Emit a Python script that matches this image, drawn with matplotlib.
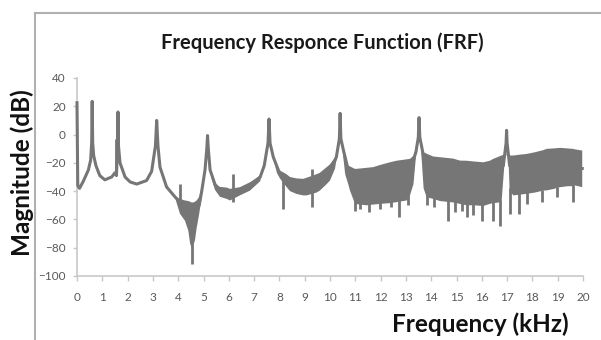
import matplotlib
matplotlib.use("Agg")
import matplotlib.pyplot as plt
from matplotlib.lines import Line2D

plt.rcParams['font.family'] = ['Lato', 'DejaVu Sans']

# ---- data (kHz, dB) ----
trace_freq = [0.0, 0.03, 0.1, 0.25, 0.45, 0.54, 0.58, 0.6, 0.62, 0.66, 0.75, 0.9, 1.1, 1.37,
              1.5, 1.56, 1.6, 1.62, 1.64, 1.7, 1.9, 2.1, 2.36, 2.75, 2.95, 3.1, 3.15, 3.2,
              3.28, 3.54, 3.87, 4.2, 4.53, 4.83, 4.93, 5.06, 5.13, 5.16, 5.19, 5.26, 5.45,
              5.65, 6.05, 6.44, 6.84, 7.24, 7.4, 7.55, 7.59, 7.63, 7.76, 8.0, 8.5, 9.0, 9.5,
              10.0, 10.25, 10.37, 10.4, 10.43, 10.53, 10.72, 11.5, 12.5, 13.2, 13.4, 13.49,
              13.52, 13.55, 13.65, 13.8, 14.5, 15.5, 16.5, 16.85, 16.96, 16.98, 17.0, 17.1,
              17.5, 18.5, 19.5, 19.97]
trace_db = [22.5, -36, -38, -33, -25, -18, -6, 23.5, -6, -15, -22, -29, -32, -30,
            -27, -29, -8, 16, -8, -20, -30, -33.5, -35, -32.5, -26, -8, 10, -8,
            -23, -37, -44, -50, -58, -50, -40, -25, -10, -0.7, -10, -25, -35,
            -40, -42, -40, -36, -30, -22, -6, 11, -6, -16, -27, -34, -36, -33,
            -27, -16, -3, 15, -3, -11, -25, -35, -31, -24, -12, -2,
            12, -2, -11, -25, -30, -33, -32, -22, -6, 3, -6, -22,
            -28, -27, -24, -24]

band_freq = [3.85, 3.95, 4.07, 4.27, 4.4, 4.47, 4.53, 4.6, 4.66, 4.73, 4.83, 4.93, 5.0, 5.05,
             5.3, 5.45, 5.65, 5.92, 6.05, 6.44, 6.84, 7.24, 7.35,
             7.75, 7.9, 8.02, 8.28, 8.42, 8.68, 8.94, 9.08, 9.47, 9.6, 9.87, 10.0, 10.2, 10.3,
             10.5, 10.6, 10.72, 10.79, 10.99, 11.18, 11.45, 11.71, 11.98, 12.37, 12.63, 13.03,
             13.16, 13.3, 13.43,
             13.6, 13.7, 13.82, 14.08, 14.35, 14.87, 15.14, 15.4, 15.67, 16.06, 16.32, 16.45,
             16.78, 16.92,
             17.05, 17.1, 17.25, 17.5, 17.77, 18.1, 18.43, 18.56, 18.83, 19.1, 19.4, 19.6,
             19.7, 19.97]
band_upper = [-43, -44.5, -45.5, -46.6, -47, -47.5, -48, -48, -47.5, -46.6, -44, -37, -32, -28,
              -30, -34.5, -37, -37.5, -38.4, -37.2, -33.7, -29, -25,
              -16, -23, -25.4, -28, -30, -31, -31.3, -30.5, -28, -27, -23, -21, -16, -12,
              -12, -18, -21.9, -22.5, -24.3, -24, -23.5, -23, -21.5, -19.6, -18.5, -17.5,
              -17.2, -15, -9,
              -11, -12.5, -13.5, -15.5, -16, -17, -18.4, -18.5, -19, -19.6, -18.5, -17.2,
              -14.8, -14,
              -14, -14.8, -14.8, -14.2, -13.7, -12.5, -11, -10.1, -9.8, -9.4, -9.8, -10.1,
              -10.5, -11.3]
band_lower = [-43, -49, -56, -61, -68, -77, -80, -78, -75, -66, -56, -44, -33, -28,
              -30, -39, -44, -45.5, -46.6, -43, -39.6, -33, -25,
              -16, -27, -31, -37, -40, -42, -43, -43, -41, -39.6, -35, -32.5, -24, -12,
              -12, -28, -35, -39.6, -49, -49.5, -50, -49.5, -49, -48.5, -47.8, -46.6,
              -43, -35, -9,
              -11, -38, -44.3, -45.5, -47, -48, -49, -50, -50, -50.5, -49, -48.5,
              -47.8, -15,
              -14, -40, -43, -42.5, -41.9, -41, -39.6, -39.5, -38.5, -37.2, -36.5, -36.5,
              -36, -37.2]

spike_freq = [1.56, 4.07, 4.53, 6.18, 8.13, 9.3, 11.0, 11.19, 11.55, 11.98, 12.43, 12.74, 13.1,
              13.82, 14.1, 14.68, 14.94, 15.2, 15.4, 15.67, 16.0, 16.45, 16.72, 17.11, 17.48,
              17.77, 18.37, 18.96, 19.6]
spike_top = [-3, -35, -60, -28, -30, -24, -45, -46, -47, -46, -45, -44, -42,
             -42, -44, -45, -47, -48, -48, -48, -49, -47, -46, -38, -41,
             -40, -39, -37, -36]
spike_bottom = [-28, -50, -91.4, -48, -52.5, -51.3, -53.7, -52.5, -55, -52.5, -51.3, -58.4, -50,
                -50, -51, -60.8, -55, -54, -58.4, -57.2, -60.8, -60.8, -64.3, -56, -56,
                -49, -47.8, -44.3, -47.8]

x_ticks = list(range(0, 21))
y_ticks = [-100, -80, -60, -40, -20, 0, 20, 40]

LINE = '#767676'
AXIS = '#c8c8c8'
TICKTXT = '#595959'

fig = plt.figure(figsize=(6.01, 3.40), dpi=100)
ax = fig.add_axes([77/601, 1-276/340, (583-77)/601, (276-78)/340])

ax.fill_between(band_freq, band_lower, band_upper, facecolor=LINE, linewidth=0)
ax.plot(trace_freq, trace_db, color=LINE, linewidth=2.2, solid_joinstyle='round',
        clip_on=False)
ax.vlines(spike_freq, spike_bottom, spike_top, color=LINE, linewidth=2.0)

ax.set_xlim(0, 20)
ax.set_ylim(-100, 40)
ax.set_xticks(x_ticks)
ax.set_yticks(y_ticks)
for s in ['top', 'right']:
    ax.spines[s].set_visible(False)
for s in ['left', 'bottom']:
    ax.spines[s].set_color(AXIS)
    ax.spines[s].set_linewidth(1.2)
    ax.spines[s].set_zorder(0)
ax.tick_params(axis='x', direction='out', length=3.5, width=1, color=AXIS,
               labelcolor=TICKTXT, labelsize=8.5, pad=8)
ax.tick_params(axis='y', direction='out', length=3, width=1, color=AXIS,
               labelcolor=TICKTXT, labelsize=8.5, pad=5)

fig.text(322/601, 1-43/340, 'Frequency Responce Function (FRF)', ha='center', va='center',
         fontsize=14.5, fontweight='bold', color='#1a1a1a')
fig.text(22/601, 1-173/340, 'Magnitude (dB)', rotation=90, ha='center', va='center',
         fontsize=17.5, fontweight='bold', color='#111111')
fig.text(480/601, 1-324/340, 'Frequency (kHz)', ha='center', va='center',
         fontsize=17.5, fontweight='bold', color='#111111')

fig.add_artist(Line2D([35/601, 35/601], [0, 1-13/340], transform=fig.transFigure,
                      color='#b0b0b0', linewidth=1.5))
fig.add_artist(Line2D([35/601, 1], [1-13/340, 1-13/340], transform=fig.transFigure,
                      color='#b0b0b0', linewidth=1.5))

fig.savefig('out.png', dpi=100)
